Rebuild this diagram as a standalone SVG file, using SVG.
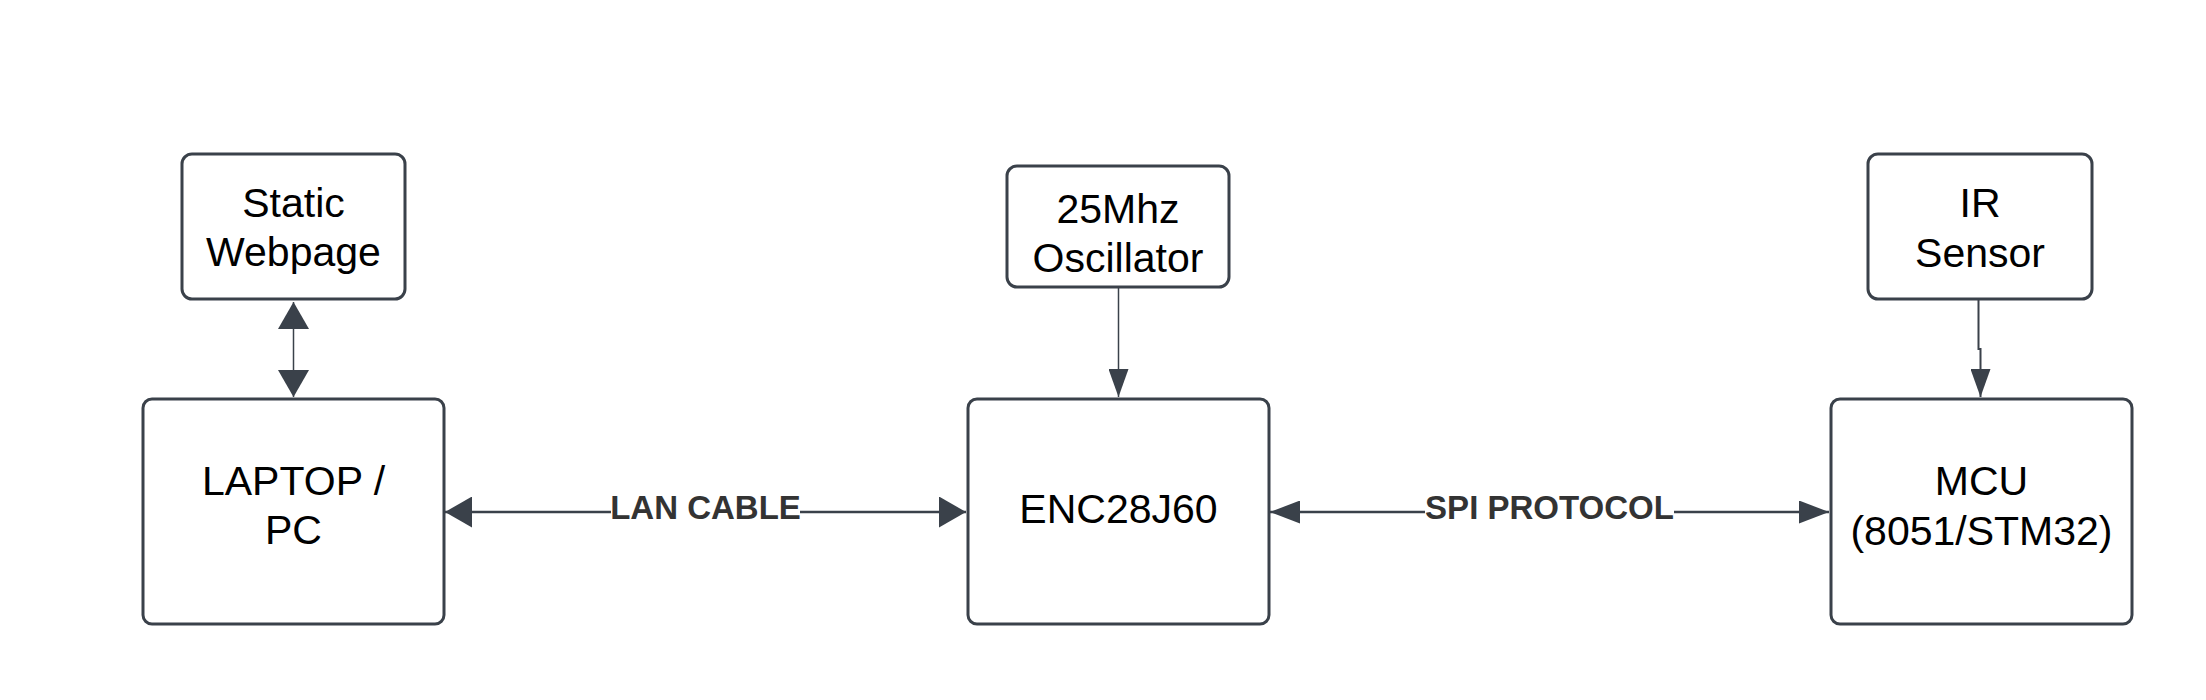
<svg xmlns="http://www.w3.org/2000/svg" width="2206" height="700" viewBox="0 0 2206 700">
<style>
.box{fill:#ffffff;stroke:#3a414a;stroke-width:3}
.t{font-family:"Liberation Sans",Arial,sans-serif;font-size:41px;fill:#000000;text-anchor:middle}
.lbl{font-family:"Liberation Sans",Arial,sans-serif;font-size:33px;font-weight:bold;fill:#333333;text-anchor:middle}
.c{fill:none;stroke:#3a414a}
</style>
<defs>
<marker id="ahBig" markerUnits="userSpaceOnUse" markerWidth="28" markerHeight="31" viewBox="0 0 28 31" refX="27" refY="15.5" orient="auto-start-reverse">
<path d="M0,0 L27,15.5 L0,31 Z" fill="#3a414a"/>
</marker>
<marker id="ahThin" markerUnits="userSpaceOnUse" markerWidth="31" markerHeight="23" viewBox="0 0 31 23" refX="30" refY="11.5" orient="auto-start-reverse">
<path d="M0,0 L30,11.5 L0,23 Z" fill="#3a414a"/>
</marker>
<marker id="ahV" markerUnits="userSpaceOnUse" markerWidth="29" markerHeight="20" viewBox="0 0 29 20" refX="28" refY="10" orient="auto-start-reverse">
<path d="M0,0 L28,10 L0,20 Z" fill="#3a414a"/>
</marker>
</defs>
<rect width="2206" height="700" fill="#ffffff"/>

<g id="connectors">
<path class="c" stroke-width="1.5" d="M293.5,302 L293.5,397" marker-start="url(#ahBig)" marker-end="url(#ahBig)"/>
<path class="c" stroke-width="1.5" d="M1118.5,287 L1118.5,397" marker-end="url(#ahV)"/>
<path class="c" stroke-width="2" d="M1978.5,299 L1978.5,349 L1980.5,349 L1980.5,397" marker-end="url(#ahV)"/>
<path class="c" stroke-width="2.5" d="M445,512 L966,512" marker-start="url(#ahBig)" marker-end="url(#ahBig)"/>
<path class="c" stroke-width="2.5" d="M1270,512 L1829,512" marker-start="url(#ahThin)" marker-end="url(#ahThin)"/>
<rect x="611" y="494" width="189" height="30" fill="#ffffff"/>
<text class="lbl" x="705.5" y="519">LAN CABLE</text>
<rect x="1425" y="494" width="249" height="30" fill="#ffffff"/>
<text class="lbl" x="1549.5" y="519">SPI PROTOCOL</text>
</g>

<g id="static-webpage">
<rect class="box" x="182" y="154" width="223" height="145" rx="10"/>
<text class="t" x="293.5" y="216.5">Static</text>
<text class="t" x="293.5" y="266">Webpage</text>
</g>

<g id="laptop-pc">
<rect class="box" x="143" y="399" width="301" height="225" rx="9"/>
<text class="t" x="293.5" y="494.5">LAPTOP /</text>
<text class="t" x="293.5" y="544">PC</text>
</g>

<g id="oscillator">
<rect class="box" x="1007" y="166" width="222" height="121" rx="10"/>
<text class="t" x="1118" y="222.5">25Mhz</text>
<text class="t" x="1118" y="272">Oscillator</text>
</g>

<g id="enc28j60">
<rect class="box" x="968" y="399" width="301" height="225" rx="9"/>
<text class="t" x="1118.5" y="522.5">ENC28J60</text>
</g>

<g id="ir-sensor">
<rect class="box" x="1868" y="154" width="224" height="145" rx="10"/>
<text class="t" x="1980" y="216.5">IR</text>
<text class="t" x="1980" y="266.5">Sensor</text>
</g>

<g id="mcu">
<rect class="box" x="1831" y="399" width="301" height="225" rx="9"/>
<text class="t" x="1981.5" y="495">MCU</text>
<text class="t" x="1981.5" y="544.5">(8051/STM32)</text>
</g>
</svg>
